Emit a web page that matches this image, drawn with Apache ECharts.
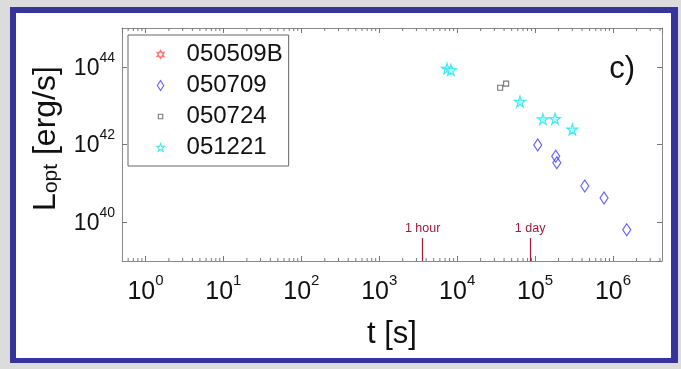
<!DOCTYPE html>
<html>
<head>
<meta charset="utf-8">
<script src="https://cdn.jsdelivr.net/npm/echarts@6/dist/echarts.min.js"></script>
<style>
html, body { margin: 0; padding: 0; background: #dcdcdc; }
#frame { position: absolute; left: 10px; top: 7px; width: 668px; height: 356px; box-sizing: border-box;
  border-style: solid; border-color: #35359a; border-width: 6px 7px 5px 6px; background: #ffffff; }
#chart { position: absolute; left: 0; top: 0; width: 681px; height: 369px; }
</style>
</head>
<body>
<div id="frame"></div>
<div id="chart"></div>
<script>
// ---- data ----
const seriesNames = ['050509B', '050709', '050724', '051221'];
const t_050509B = [];
const L_050509B = [];
const t_050709 = [1.08e5, 1.84e5, 1.90e5, 4.34e5, 7.67e5, 1.50e6];
const L_050709 = [9.7e41, 5.0e41, 3.4e41, 8.5e40, 4.2e40, 6.4e39];
const t_050724 = [3.56e4, 4.25e4];
const L_050724 = [2.9e43, 3.7e43];
const t_051221 = [7.4e3, 8.3e3, 6.4e4, 1.26e5, 1.80e5, 3.0e5];
const L_051221 = [9.0e43, 8.3e43, 1.27e43, 4.5e42, 4.6e42, 2.46e42];
const markTimes = [3600, 86400];
const markLabels = ['1 hour', '1 day'];
const markTopL = 3.9e39;
// axis ranges and tick definitions
const X_MIN = 0.5, X_MAX = 4.25e6;
const Y_MIN = 1e39, Y_MAX = 1e45;
const minorMantissas = [2, 3, 4, 5, 6, 7, 8, 9];
const minorDecades = [0.1, 1, 10, 100, 1e3, 1e4, 1e5, 1e6];

const minorTicks = [];
minorDecades.forEach(d => minorMantissas.forEach(m => {
  const v = m * d;
  if (v > X_MIN && v < X_MAX) minorTicks.push(v);
}));

const zip = (a, b) => a.map((v, i) => [v, b[i]]);
const FONT = 'Liberation Sans, Arial, sans-serif';

const STAR = 'path://M50,0 L61,35 L98,35 L68,57 L79,91 L50,70 L21,91 L32,57 L2,35 L39,35 Z';
const HEX = 'path://M50,0 L93,75 L7,75 Z M50,100 L7,25 L93,25 Z';
const SQ_ICON = 'path://M0,0 M100,100 M28,28 L72,28 L72,72 L28,72 Z';
const DIA_ICON = 'path://M0,0 M100,100 M50,0 L82,50 L50,100 L18,50 Z';
const STAR_ICON = 'path://M0,-5 M100,100 M50,5 L60,36 L93,36 L66,56 L76,88 L50,68 L24,88 L34,56 L7,36 L40,36 Z';
const HEX_ICON = 'path://M0,0 M100,100 M50,8 L87,72 L13,72 Z M50,92 L13,28 L87,28 Z';

const xLabelFmt = v => {
  const lg = Math.log10(v), e = Math.round(lg);
  if (Math.abs(lg - e) > 1e-6) return '';
  return '{b|10}{s|' + e + '}';
};
const yLabelFmt = v => {
  const lg = Math.log10(v), e = Math.round(lg);
  if (Math.abs(lg - e) > 1e-6 || e % 2 !== 0) return '';
  return '{b|10}{s|' + e + '}';
};

const axisLineStyle = { color: '#8a8a8a', width: 1 };
const tickStyle = { color: '#777', width: 1 };

const chart = echarts.init(document.getElementById('chart'), null, { renderer: 'canvas' });
chart.setOption({
  animation: false,
  backgroundColor: 'transparent',
  textStyle: { fontFamily: FONT },
  grid: { left: 122, top: 28, width: 540, height: 233, containLabel: false },
  title: {
    text: 'c)', right: 41, top: 49,
    textStyle: { fontSize: 31, fontWeight: 'normal', color: '#111', fontFamily: FONT }
  },
  legend: {
    orient: 'vertical', left: 128, top: 35,
    backgroundColor: '#ffffff', borderColor: '#666', borderWidth: 1,
    padding: [7, 6, 6, 27], itemGap: 6, itemWidth: 10, itemHeight: 10,
    textStyle: { fontSize: 24, lineHeight: 25, color: '#111', fontFamily: FONT, padding: [0, 0, 0, 16] },
    data: [
      { name: '050509B', icon: HEX_ICON, itemStyle: { color: 'rgba(255,255,255,0)', borderColor: '#ff4d4d', borderWidth: 1.1 } },
      { name: '050709', icon: DIA_ICON, itemStyle: { color: 'rgba(255,255,255,0)', borderColor: '#3b3bff', borderWidth: 1.1 } },
      { name: '050724', icon: SQ_ICON, itemStyle: { color: 'rgba(255,255,255,0)', borderColor: '#555', borderWidth: 1.1 } },
      { name: '051221', icon: STAR_ICON, itemStyle: { color: 'rgba(255,255,255,0)', borderColor: '#1ee6f0', borderWidth: 1.1 } }
    ],
    selectedMode: false
  },
  xAxis: [{
    type: 'log', logBase: 10, min: X_MIN, max: X_MAX, position: 'bottom',
    axisLine: { show: true, lineStyle: axisLineStyle },
    axisTick: { show: true, inside: true, length: 5, lineStyle: tickStyle },
    splitLine: { show: false },
    axisLabel: {
      margin: 19, formatter: xLabelFmt, showMinLabel: false, showMaxLabel: false, color: '#111',
      rich: {
        b: { fontSize: 25, lineHeight: 25, verticalAlign: 'bottom', fontFamily: FONT, color: '#111' },
        s: { fontSize: 15, lineHeight: 15, padding: [0, 0, 17, 0], verticalAlign: 'bottom', fontFamily: FONT, color: '#111' }
      }
    },
    name: 't [s]', nameLocation: 'middle', nameGap: 58,
    nameTextStyle: { fontSize: 31, color: '#111', fontFamily: FONT }
  }, {
    type: 'log', logBase: 10, min: X_MIN, max: X_MAX, position: 'top',
    axisLine: { show: true, lineStyle: axisLineStyle },
    axisTick: { show: true, inside: true, length: 5, lineStyle: tickStyle },
    splitLine: { show: false }, axisLabel: { show: false }
  }],
  yAxis: [{
    type: 'log', logBase: 100, min: Y_MIN, max: Y_MAX, position: 'left',
    axisLine: { show: true, lineStyle: axisLineStyle },
    axisTick: { show: true, inside: true, length: 5, lineStyle: tickStyle },
    splitLine: { show: false },
    axisLabel: {
      margin: 7, formatter: yLabelFmt, showMinLabel: false, showMaxLabel: false, color: '#111',
      padding: [3, 0, 0, 0],
      rich: {
        b: { fontSize: 23, lineHeight: 23, verticalAlign: 'bottom', fontFamily: FONT, color: '#111' },
        s: { fontSize: 14, lineHeight: 14, padding: [0, 0, 15, 0], verticalAlign: 'bottom', fontFamily: FONT, color: '#111' }
      }
    },
    name: '{a|L}{sub|opt}{a| [erg/s]}', nameLocation: 'middle', nameGap: 60, nameRotate: 90,
    nameTextStyle: {
      padding: [0, 0, 0, 12],
      rich: {
        a: { fontSize: 32, lineHeight: 33, verticalAlign: 'bottom', fontFamily: FONT, color: '#111' },
        sub: { fontSize: 21, lineHeight: 21, padding: [9, 0, 0, 0], verticalAlign: 'bottom', fontFamily: FONT, color: '#111' }
      }
    }
  }, {
    type: 'log', logBase: 100, min: Y_MIN, max: Y_MAX, position: 'right',
    axisLine: { show: true, lineStyle: axisLineStyle },
    axisTick: { show: true, inside: true, length: 5, lineStyle: tickStyle },
    splitLine: { show: false }, axisLabel: { show: false }
  }],
  series: [
    {
      name: 'minor', type: 'custom', silent: true, xAxisIndex: 0, yAxisIndex: 0,
      data: minorTicks.map(v => [v, Y_MIN]),
      renderItem: (params, api) => {
        const v = api.value(0);
        const pb = api.coord([v, Y_MIN]);
        const pt = api.coord([v, Y_MAX]);
        return {
          type: 'group', children: [
            { type: 'line', shape: { x1: pb[0], y1: pb[1], x2: pb[0], y2: pb[1] - 3 }, style: { stroke: '#777', lineWidth: 1 } },
            { type: 'line', shape: { x1: pt[0], y1: pt[1], x2: pt[0], y2: pt[1] + 3 }, style: { stroke: '#777', lineWidth: 1 } }
          ]
        };
      },
      z: 1
    },
    {
      name: '050509B', type: 'scatter', data: zip(t_050509B, L_050509B),
      symbol: HEX, symbolSize: 9,
      itemStyle: { color: 'rgba(255,255,255,0)', borderColor: '#ff4d4d', borderWidth: 1.2 }
    },
    {
      name: '050709', type: 'scatter', data: zip(t_050709, L_050709),
      symbol: 'diamond', symbolSize: [8, 12],
      itemStyle: { color: 'rgba(255,255,255,0)', borderColor: '#3b3bff', borderWidth: 1.2 },
      markLine: {
        silent: true, symbol: 'none',
        lineStyle: { color: '#a3173d', width: 1.2, type: 'solid' },
        label: { show: true, position: 'end', distance: 1, color: '#a3173d', fontSize: 12.5, fontFamily: FONT,
          backgroundColor: '#ffffff', padding: [2, 3] },
        data: markTimes.map((t, i) => [
          { coord: [t, Y_MIN], name: markLabels[i], label: { formatter: markLabels[i] } },
          { coord: [t, markTopL] }
        ])
      }
    },
    {
      name: '050724', type: 'scatter', data: zip(t_050724, L_050724),
      symbol: 'rect', symbolSize: 5,
      itemStyle: { color: 'rgba(255,255,255,0)', borderColor: '#555', borderWidth: 1.1 }
    },
    {
      name: '051221', type: 'scatter', data: zip(t_051221, L_051221),
      symbol: STAR, symbolSize: 11,
      itemStyle: { color: '#a8ffff', borderColor: '#1ee6f0', borderWidth: 1.2 }
    }
  ]
});
</script>
</body>
</html>
